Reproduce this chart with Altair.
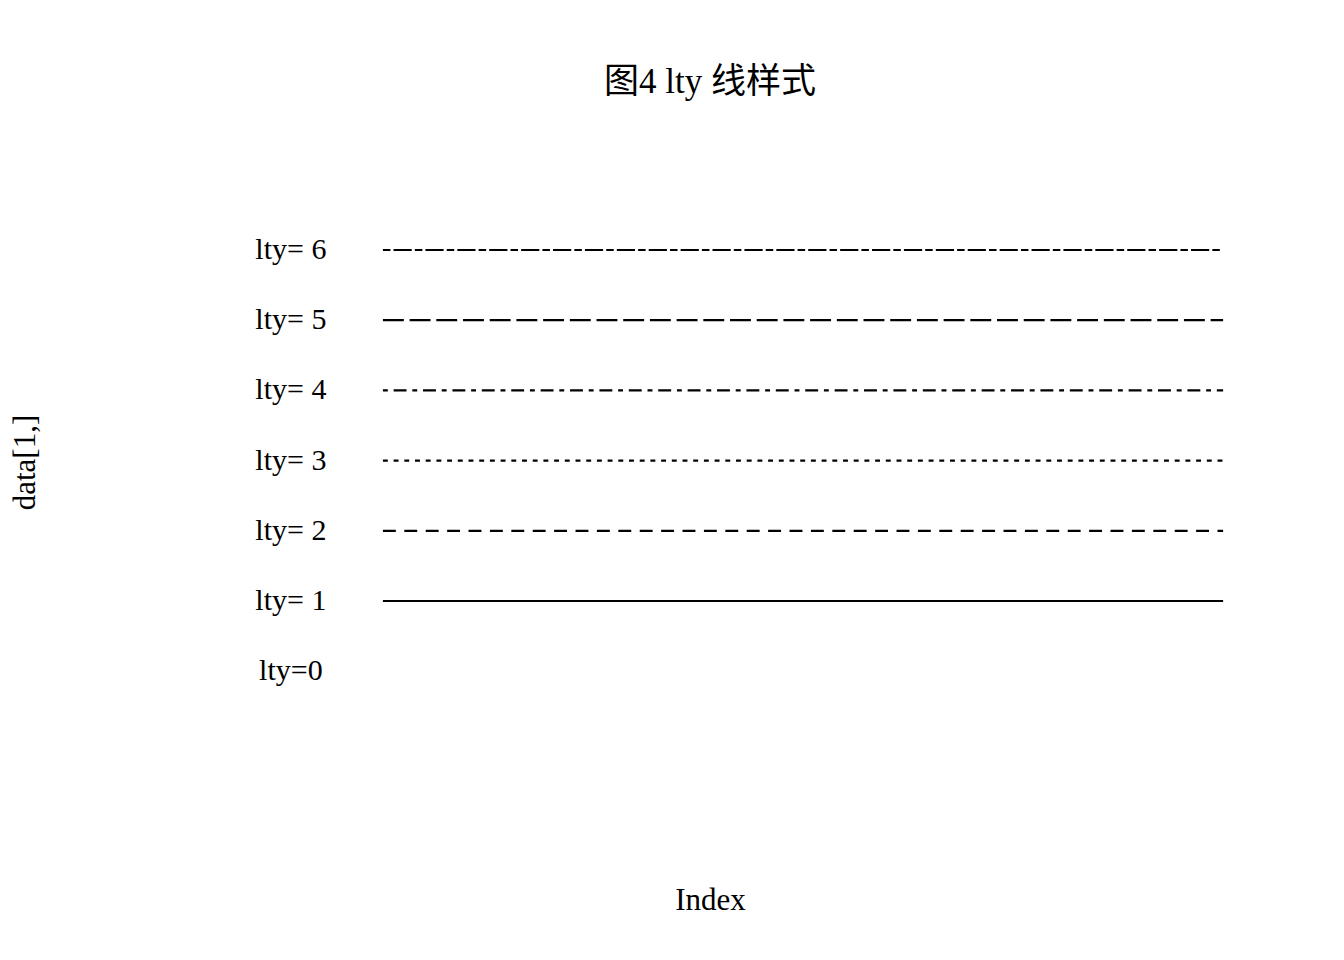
import altair as alt
import pandas as pd

# data
index = [1, 2, 3, 4, 5, 6, 7, 8, 9, 10]
lty_values = [0, 1, 2, 3, 4, 5, 6]
lty_labels = ["lty=0", "lty= 1", "lty= 2", "lty= 3", "lty= 4", "lty= 5", "lty= 6"]
label_x = [0, 0, 0, 0, 0, 0, 0]
line_ltys = [1, 2, 3, 4, 5, 6]
# R line-type patterns (lty 1..6) expressed as dash arrays
dash_patterns = [[1, 0], [10.7, 10.7], [2.7, 8], [2.7, 8, 10.7, 8], [18.7, 8], [5.3, 5.3, 16, 5.3]]

rows = []
for k in line_ltys:
    for i in index:
        rows.append({"x": i, "y": k, "lty": str(k)})
lines_df = pd.DataFrame(rows)

labels_df = pd.DataFrame({"x": label_x, "y": lty_values, "label": lty_labels})

FONT = "Liberation Serif, Noto Sans CJK SC"

xscale = alt.Scale(domain=[-1.449, 10.451], nice=False, zero=False)
yscale = alt.Scale(domain=[-1.365, 7.325], nice=False, zero=False)

xaxis = alt.Axis(title="Index", labels=False, ticks=False, domain=False, grid=False,
                 titleFont=FONT, titleFontSize=31, titleFontWeight="normal", titleColor="black",
                 titleX=554, titleY=133, titleBaseline="middle", titleAlign="center")
yaxis = alt.Axis(title="data[1,]", labels=False, ticks=False, domain=False, grid=False,
                 titleFont=FONT, titleFontSize=31, titleFontWeight="normal", titleColor="black",
                 titleX=-131, titleY=305, titleBaseline="middle", titleAlign="center", titleAngle=-90)

lines = alt.Chart(lines_df).mark_line(color="black", strokeWidth=2.2, strokeCap="square").encode(
    x=alt.X("x:Q", scale=xscale, axis=xaxis),
    y=alt.Y("y:Q", scale=yscale, axis=yaxis),
    strokeDash=alt.StrokeDash("lty:N", scale=alt.Scale(domain=[str(k) for k in line_ltys], range=dash_patterns), legend=None),
    detail="lty:N",
)

texts = alt.Chart(labels_df).mark_text(font=FONT, fontSize=30, color="black", align="center", baseline="middle").encode(
    x=alt.X("x:Q", scale=xscale),
    y=alt.Y("y:Q", scale=yscale),
    text="label:N",
)

chart = alt.layer(lines, texts).properties(
    width=1108,
    height=610,
    title=alt.TitleParams("图4 lty 线样式", font=FONT, fontSize=35, fontWeight="normal", color="black",
                          anchor="middle", offset=57),
    autosize=alt.AutoSizeParams(type="none"),
    padding={"left": 148, "top": 149, "right": 60, "bottom": 170},
).configure_view(stroke=None)

chart.save("out.html", embed_options={"renderer": "svg", "actions": False})
